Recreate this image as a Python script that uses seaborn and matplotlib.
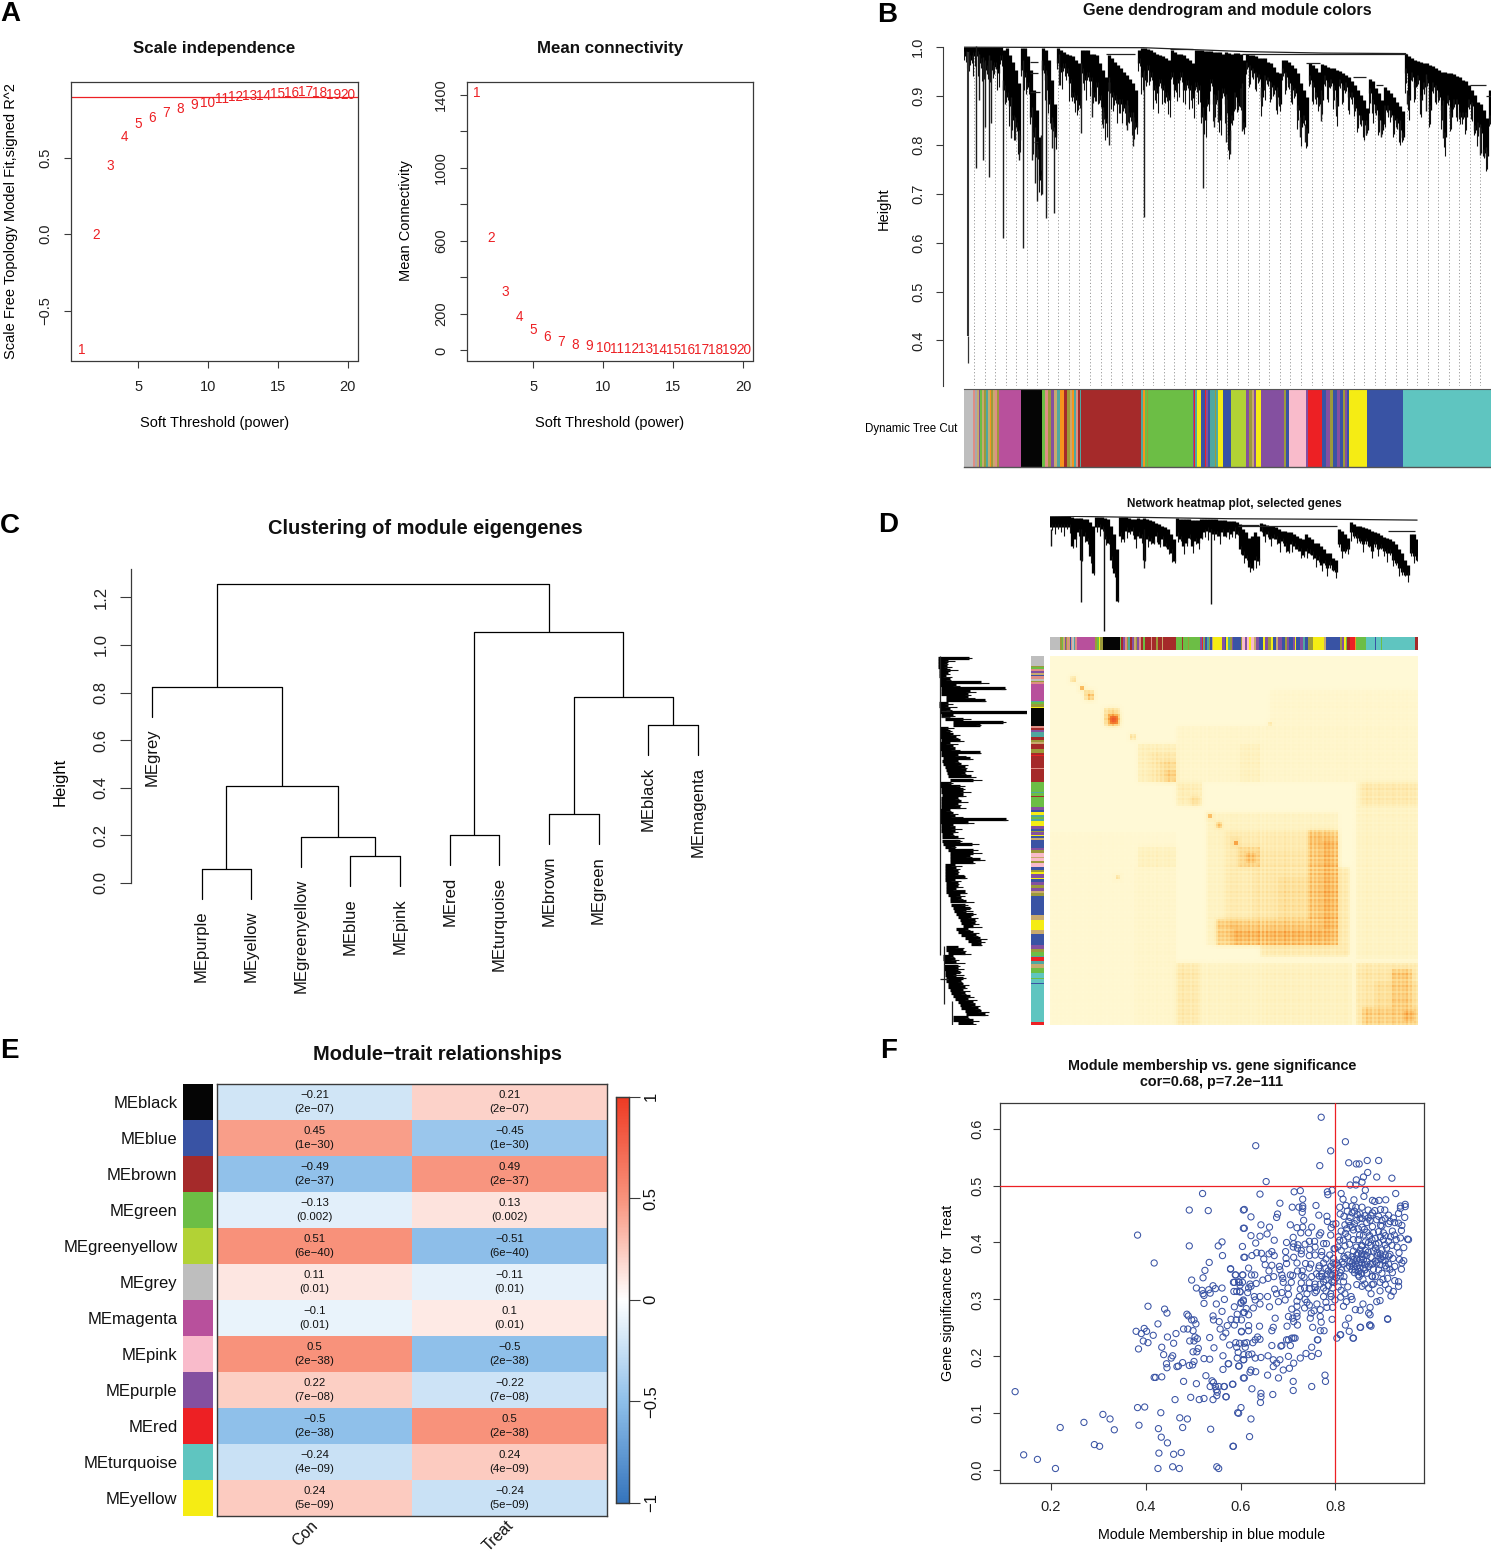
import numpy as np
import pandas as pd
import matplotlib
matplotlib.use("Agg")
import matplotlib.pyplot as plt
from matplotlib.colors import ListedColormap, LinearSegmentedColormap
import seaborn as sns

sns.set_theme(style="ticks")
plt.rcParams['font.family'] = ['Liberation Sans', 'DejaVu Sans']
plt.rcParams['axes.unicode_minus'] = True

W, H = 1491, 1555
fig = plt.figure(figsize=(W / 100, H / 100), dpi=100)
INK = "#3A3A3A"
RED = "#ED2024"

# ---------- DATA ----------
powers = list(range(1, 21))
sft_fit = [-0.758, -0.002, 0.444, 0.636, 0.717, 0.757, 0.79, 0.819, 0.842, 0.855,
           0.882, 0.895, 0.9, 0.904, 0.915, 0.924, 0.925, 0.92, 0.908, 0.91]
mean_conn = [1411, 616, 318, 183, 113, 73, 49, 32, 22, 15, 10, 8, 6, 5, 4, 3, 2.5, 2, 1.5, 1]
sft_cut = 0.895

palette = dict(grey="#BEBEBE", magenta="#B8509C", black="#050505", brown="#A52A2A",
               green="#6CBE45", blue="#3953A4", turquoise="#5FC5C0", yellow="#F5EC14",
               pink="#F9BBCB", red="#ED2024", greenyellow="#B2D235", purple="#8450A0",
               salmon="#DE8E85", tan="#C8A96E", olive="#9C9A3A", teal="#4FA7A0",
               orange="#F7941D", ltgrey="#A9A9A9")

tree_b1 = [(1.0,.981),(1.0,.981),(1.0,.973),(1.0,.98),(1.0,.981),(1.0,.966),(1.0,.959),(1.0,.952),(1.0,.963),(1.0,.952),
 (1.0,.959),(1.0,.946),(1.0,.973),(.993,.912),(.997,.898),(.983,.878),(.969,.85),(.952,.837),(.925,.81),(.997,.952),
 (.997,.939),(.98,.918),(.952,.857),(.912,.816),(.871,.782),(.816,.728),(.997,.952),(.993,.932),(.973,.884),(.932,.837),
 (.884,.816),(.997,.966),(.993,.949),(.99,.956),(.986,.946),(.983,.925),(.98,.898),(.973,.891),(.966,.881),(.993,.946),
 (.993,.932),(.993,.939),(.986,.929),(.986,.898),(.983,.918),(.966,.891),(.952,.857),(.939,.844),(.983,.918),(.976,.898),
 (.969,.891),(.963,.884),(.956,.884),(.949,.874),(.942,.871),(.935,.857),(.925,.847),(.912,.837),(.993,.966)]
tree_b2 = [(.997,.939),(.997,.932),(.995,.952),(.993,.939),(.99,.912),(.986,.905),(.983,.925),(.98,.912),(.976,.898),(.973,.891),
 (.993,.939),(.99,.912),(.986,.925),(.985,.939),(.983,.912),(.976,.922),(.973,.912),(.966,.895),(.993,.918),(.993,.912),
 (.993,.857),(.992,.85),(.991,.884),(.991,.925),(.99,.884),(.989,.891),(.989,.85),(.986,.905),(.989,.884),(.988,.81),
 (.986,.85),(.988,.898),(.988,.878),(.986,.905),(.973,.837),(.986,.959),(.983,.952),(.983,.946),(.98,.939),(.976,.935),
 (.976,.898),(.976,.932),(.969,.929),(.966,.918),(.959,.912),(.949,.898),(.946,.884),(.973,.946),(.973,.939),(.969,.925),
 (.963,.912),(.956,.905),(.946,.871),(.925,.837),(.912,.85),(.898,.823),(.966,.932),(.963,.918),(.956,.898),(.949,.884)]
tree_b3 = [(.965,.891),(.963,.932),(.959,.918),(.957,.925),(.956,.912),(.952,.878),(.951,.925),(.946,.912),(.942,.918),(.938,.898),
 (.929,.898),(.922,.874),(.912,.861),(.901,.85),(.891,.84),(.874,.83),(.935,.905),(.929,.884),(.915,.871),(.905,.85),
 (.891,.83),(.918,.871),(.912,.871),(.905,.861),(.898,.85),(.888,.844),(.878,.83),(.868,.816),(.985,.946),(.98,.891),
 (.976,.939),(.973,.918),(.971,.932),(.969,.891),(.967,.918),(.966,.925),(.963,.871),(.961,.918),(.956,.912),(.952,.898),
 (.949,.871),(.949,.816),(.947,.891),(.946,.857),(.944,.884),(.94,.884),(.938,.857),(.933,.857),(.929,.857),(.922,.884),
 (.912,.878),(.901,.83),(.888,.837),(.884,.823),(.871,.782),(.854,.776),(.912,.85)]
b_spike_pos = [4.05,5.3,6.5,7.3,8.5,9.2,13.05,15.9,17.2,18.6,19.9,22.7,23.8,24.5,26.05,25.7,27.4,29.4,30.2,31.8,39.05,43,46.6,48.7,54.6,56.7,
               60.3,79.8,87.5,88.9,83.5,84.9,92.8,99.2,104.6,112.2,114.1,119.4,124.4,134.4,139.4,145.8,148.1,154.4,159.9,162.2,172.2,174.4]
b_spike_low = [.752,.891,.768,.836,.733,.844,.609,.813,.81,.768,.589,.769,.721,.685,.70,.82,.651,.793,.66,.922,.823,.857,.834,.80,.83,.798,
               .652,.711,.806,.781,.836,.847,.827,.889,.883,.816,.806,.849,.872,.819,.815,.813,.884,.868,.813,.854,.779,.774]
b_long_pos = 1.6
b_long_low = [.409, .354]
b_main_pos = [0, 60, 94, 120, 147.5]
b_main_h = [.999, .998, .99, .987, .986]
b_merge_start = [47.7, 92.8, 68.8, 114.4, 130, 137.7, 168.9, 174.4, 22.2, 22.2, 22.2, 23.5]
b_merge_end = [57.2, 147.9, 76.6, 118.8, 134.4, 139.9, 174.4, 176, 24.9, 24.9, 25.4, 25]
b_merge_h = [.986, .986, .995, .966, .938, .922, .922, .90, .969, .946, .908, .806]
b_fringe = [.012,.03,.006,.02,.04,.01,.025,.008,.035,.015,.005,.028]
d_fringe = [8,20,4,14,26,6,17,5,23,10,3,19]

cut_segments = [('grey',9.5),('salmon',1.5),('ltgrey',2),('tan',2),('purple',1),('green',2),('tan',2),('olive',2),('teal',2),('tan',2),('orange',1.5),('olive',2),('tan',2),('salmon',2),('olive',2),
 ('magenta',21.5),('black',21.5),
 ('green',3),('salmon',3),('olive',3),('purple',3),('tan',3),('teal',3),('orange',4),('brown',3),('olive',3),('tan',2),('orange',2),('teal',2),('salmon',2),('brown',1.5),('teal',1.5),
 ('brown',59.5),('teal',2),('orange',2),('green',2),('olive',1.5),('green',45),
 ('purple',1),('red',1),('teal',2),('yellow',4),('blue',4),('red',1),('purple',2),('blue',1.5),('teal',5),('olive',1),('teal',2),('yellow',5.5),('blue',8),
 ('greenyellow',14.5),('purple',3.5),('olive',3),('tan',2),('purple',2.3),('yellow',5),('purple',22.5),('olive',2),('blue',2.8),('pink',17.8),('purple',2),('red',13.9),
 ('blue',4),('purple',4),('olive',3),('blue',4),('purple',3),('blue',3),('olive',2),('purple',2),('blue',2),('yellow',17.8),('blue',35.6),('turquoise',88.3)]
cut_colors = [c for c, _ in cut_segments]
cut_widths = [w for _, w in cut_segments]

cor_con = [-0.21, 0.45, -0.49, -0.13, 0.51, 0.11, -0.1, 0.5, 0.22, -0.5, -0.24, 0.24]
pvals = ['2e−07','1e−30','2e−37','0.002','6e−40','0.01','0.01','2e−38','7e−08','2e−38','4e−09','5e−09']
modules = ['MEblack','MEblue','MEbrown','MEgreen','MEgreenyellow','MEgrey','MEmagenta','MEpink','MEpurple','MEred','MEturquoise','MEyellow']
module_hues = ['black','blue','brown','green','greenyellow','grey','magenta','pink','purple','red','turquoise','yellow']
traits = ['Con', 'Treat']

leaf_names = ['MEgrey','MEpurple','MEyellow','MEgreenyellow','MEblue','MEpink','MEred','MEturquoise','MEbrown','MEgreen','MEblack','MEmagenta']
eigen_merges = [(2,3,.059),(5,6,.113),(4,5.5,.193),(2.5,4.75,.408),(1,3.625,.824),(7,8,.202),(9,10,.29),(11,12,.664),(9.5,11.5,.782),(7.5,10.5,1.055),(2.3125,9,1.256)]
eigen_leaf_h = [.824,.059,.059,.193,.113,.113,.202,.202,.29,.29,.664,.664]
LEAF_HANG = 0.126

# D: top tree, depths read in the tree's own unit (no axis is shown)
d_top_start = [62]*7 + [65,68,68,68,70,72,80,90,65,65,65,68,70,90,115,160,65,65,65,68,70,70,68,70,68,72,75,78,82,85,90,95,100,115,130,
 68,70,70,72,72,73,75,75,72,70,70,72,72,72,73,75,75,78,78,78,80,85,100,110,125,120,110,120,82,85,88,90,92,95,100,105,105,110,110,115,120,125,128,
 115,122,130,140,140,150,160,170,170,185,190,100,105,115,125,80,85,90,92,95,98,100,105,108,112,118,122,125,130,135,145,160,170,190,205,115,115,130]
d_top_end = [95]*7 + [150,130,110,190,120,135,180,230,95,95,100,130,140,190,230,310,120,130,105,110,105,130,120,125,190,130,135,140,120,145,130,150,160,170,195,
 120,130,150,140,125,150,135,140,125,110,105,110,115,115,120,110,120,110,115,105,115,160,175,185,210,215,190,195,105,120,115,130,125,130,140,135,150,165,145,150,160,165,175,
 165,170,175,185,190,205,200,215,205,220,225,145,165,165,160,110,120,125,135,145,135,150,165,145,160,155,165,170,170,190,200,215,225,235,235,170,180,190]
d_top_spike_pos = [18.0, 10.3, 53.9, 0.5, 31.5]
d_top_spike_end = [400, 315, 320, 150, 215]
d_left_start = [25,25,25,25,27,27,27,30,30,30,35,35,35,50,50,28,28,30,30,35,45,70,70,30,30,30,30,35,30,30,32,35,35,40,38,40,45,50,52,55,60,32,32,35,35,38,35,35,35,35,30,30,30,30,32,35,35,35,38,38,38,40,45,55,60,60,60,60,45,45,45,47,47,47,48,50,50,50,55,60,62,65,70,72,80,85,90,95,100,80,85,95,105,115,125,50,50,55,40,40,42,42,42,45,45,48,50,55,55,60,65,70,75,85,90,95,105,110,70,70,85]
d_left_end = [118,55,52,52,60,55,50,60,155,80,225,120,115,115,165,55,55,60,292,70,100,220,150,55,60,70,80,90,60,70,75,150,85,120,85,95,105,110,105,125,130,65,90,100,100,100,85,95,85,90,60,70,75,230,115,70,75,75,70,85,90,128,75,130,130,120,150,130,75,80,85,85,105,75,85,85,80,105,90,95,110,105,120,110,130,125,135,135,130,115,130,140,150,155,155,85,100,105,70,75,80,85,85,90,80,100,95,100,105,100,105,120,115,130,135,145,155,165,115,130,130]
d_top_main_x = [0, 60, 100, 122.7]
d_top_main_h = [62, 70, 72, 74]

d_top_colors = ['grey','olive','green','tan','purple','olive','salmon','tan','blue','salmon','grey','teal','salmon','magenta','olive','green','yellow','olive','black',
 'green','brown','purple','salmon','olive','teal','brown','purple','tan','olive','purple','salmon','brown','green',
 'brown','salmon','brown','olive','brown','tan','brown','green','brown','green','olive','green','brown','green',
 'purple','red','teal','olive','blue','teal','olive','blue','tan','yellow','purple','blue','yellow','teal','olive','purple','blue',
 'olive','pink','purple','pink','yellow','pink','tan','purple',
 'blue','yellow','purple','olive','yellow','blue','tan','purple','blue','olive','purple','blue','purple','yellow','blue','purple','teal','blue',
 'olive','yellow','tan','blue','olive','purple','yellow','green','brown','red','orange','green','turquoise','blue','turquoise','green','turquoise','brown']
d_top_widths = [30,6,3,5,4,3,5,3,3,5,4,4,7,53,6,5,5,7,52,
 4,5,5,6,5,5,6,5,6,5,6,6,6,6,
 18,3,12,4,14,3,37,20,2,14,3,12,2,20,
 5,3,4,4,4,7,3,5,5,26,8,4,6,5,6,5,23,
 5,8,5,7,5,10,5,10,
 12,6,10,8,5,9,7,12,8,6,8,10,7,3,12,9,6,9,
 15,32,8,40,7,5,6,5,7,15,5,30,25,3,15,3,99,10]
d_left_colors = ['grey','olive','green','salmon','purple','tan','blue','salmon','grey','olive','salmon','magenta','teal','green','olive','yellow','black',
 'salmon','brown','purple','teal','brown','olive','tan','brown','olive','brown','red','brown','salmon','brown','green','teal','green','brown','green',
 'purple','blue','yellow','teal','green','teal','yellow','purple','blue','olive','purple','yellow','blue','tan','blue','purple','olive',
 'pink','tan','pink','olive','pink','blue','olive','yellow','purple','yellow','blue','purple','olive','purple','tan','olive','blue','tan','yellow','tan','blue',
 'purple','olive','green','teal','red','teal','tan','green','turquoise','green','turquoise','blue','turquoise','red']
d_left_widths = [28,5,4,7,6,5,4,8,5,5,6,48,5,5,7,5,53,
 5,6,5,14,10,6,6,14,12,6,3,35,2,38,30,3,10,2,30,
 8,7,7,8,5,5,15,8,6,5,6,4,6,5,25,5,10,
 10,5,8,4,13,10,6,5,10,5,8,10,9,8,6,8,55,15,30,12,33,
 10,8,12,5,10,10,10,15,15,3,12,3,112,8]

# adjacency blocks: rank x0, x1, y0, y1 (percent), level
tom_blocks = [(5.6,7.2,5.6,7,.3),(8,9,8,9,.75),(9,12,9,12,.3),(10.5,12,10.5,12,.5),(14.5,19,14,19,.35),(15.5,18.8,15.5,18.8,.55),(16.5,18.5,16.5,18.5,.95),(21.5,23.5,21,23,.3),
 (0,34,48,100,.03),(34,100,19,34,.06),(60,100,9,19,.05),(23,34,57,100,.06),
 (23.7,34,24,34,.14),(27,34,26,34,.2),(30,34,28,34,.3),(31.5,34,31,34,.38),(34.4,41.2,34.5,41,.15),(38,41,38,41,.28),
 (51.8,57,24,34,.12),(23.7,34,51.6,57,.12),
 (34.4,82,83,100,.1),(83,100,34.4,82,.1),(84,100,34.5,41,.2),(34.4,41,83,100,.2),(57,82,83,100,.12),
 (42.5,78.3,42.4,78.5,.1),(78.3,81.5,57,81,.18),(57,81,78.5,81.5,.18),
 (47.5,78.3,47.5,78.5,.17),(55,78.3,52,78.5,.22),(62,78.3,60,78.5,.27),(70,78.3,47.5,78.5,.42),(45,78.3,71,78.5,.4),(50,78.3,74,78.5,.52),(74,78.3,50,78.5,.52),
 (51,57,51.6,57,.34),(53,56,53,56,.5),
 (83,100,83,100,.22),(88,100,88,100,.3),(85,100,95,100,.4),(93,98.5,85,100,.42),(96,99,96,99,.58),
 (43,44,43,44,.7),(45,46.5,45,46.5,.5),(50,51,50,51,.85),(18,19,59.5,60.5,.4),(59.5,60.5,18,19,.3)]
tom_streaks = [.9,1.1,.8,1.0,.7,1.2,.9,1.0,.8,1.1,.7,1.0,1.2,.8,.9,1.1,.7,1.0,.9,1.2,.8,1.0,.7,1.1,.9,1.3,.8,1.0,.7,1.1,
 .9,1.2,.8,1.0,.7,1.1,1.2,.8,1.0,.9,1.2,.7,1.0,.8,1.1,.9,1.2,.7,1.0,1.2,.8,1.1,.7,1.3,.9,1.0,.7,1.1,.9,1.2,
 .8,1.0,1.2,.7,1.1,.9,1.3,.8,1.0,1.1,.7,1.2,.9,1.0,.8,1.2,.7,1.1,.6,1.3,1.0,.8,1.1,.7,1.2,.9,1.0,.8,1.1,.9,1.2,1.0]

# F: module membership / gene significance
mm_gs_low = [(.125,.138),(.143,.027),(.172,.019),(.210,.003),(.220,.075),(.270,.084),(.292,.045),(.303,.042),(.310,.098),(.325,.090),(.334,.071),
 (.383,.110),(.398,.111),(.386,.079),(.432,.101),(.427,.073),(.433,.058),(.446,.048),(.428,.030),(.459,.028),(.475,.031),(.426,.003),(.457,.006),(.471,.003),
 (.472,.092),(.488,.090),(.478,.075),(.537,.072),(.550,.006),(.554,.003),(.585,.042),(.584,.042),(.601,.110),(.594,.101),(.596,.100),(.622,.090),(.619,.059),
 (.462,.124),(.495,.128),(.513,.124),(.523,.126),(.542,.124),(.569,.129),(.550,.131),(.551,.137),(.549,.141),(.536,.147),(.547,.147),(.554,.147),(.566,.147),(.583,.151),
 (.480,.156),(.507,.152),(.540,.157),(.543,.154),(.527,.166),(.606,.162),(.418,.163),(.421,.163),(.434,.164),(.565,.147),(.570,.129),(.584,.151),(.624,.143),
 (.643,.135),(.643,.129),(.642,.119),(.668,.133),(.711,.156),(.711,.140),(.750,.147),(.778,.167),(.779,.156),(.657,.167),(.680,.162),(.608,.162),(.622,.176),(.632,.173),(.620,.172),
 (.563,.177),(.575,.187),(.596,.183),(.597,.183),(.574,.187),(.444,.187),(.445,.180),(.466,.182),(.469,.183),(.478,.189),(.502,.191),(.492,.184),(.499,.185),(.523,.196),(.535,.195),
 (.457,.201),(.454,.197),(.563,.201),(.607,.203),(.593,.197),(.607,.194),(.438,.203),(.500,.208),(.508,.208),(.595,.207),(.434,.216),(.385,.213),(.544,.215),(.592,.216),(.511,.214),
 (.669,.182),(.676,.188),(.683,.194),(.669,.194),(.658,.201),(.643,.198),(.631,.197),(.606,.194),(.617,.203),(.624,.204),(.690,.176),(.703,.179),(.712,.188),(.701,.200),(.726,.197),(.738,.205),(.750,.200),(.764,.205)]
mm_gs_mid = [(.520,.486),(.492,.457),(.532,.456),(.606,.457),(.606,.425),(.383,.413),(.492,.394),(.553,.394),(.561,.401),(.604,.393),(.562,.377),(.607,.374),(.418,.364),(.534,.365),
 (.525,.351),(.579,.353),(.589,.343),(.604,.343),(.521,.338),(.497,.334),(.587,.330),(.597,.330),(.604,.330),(.599,.325),(.507,.320),(.519,.316),(.521,.310),(.523,.307),(.533,.317),(.536,.311),
 (.542,.324),(.547,.319),(.561,.320),(.586,.314),(.592,.314),(.599,.314),(.566,.300),(.523,.293),(.549,.292),(.601,.293),(.606,.297),(.587,.287),(.405,.288),(.440,.283),(.445,.276),(.561,.279),
 (.593,.274),(.608,.277),(.487,.274),(.490,.271),(.497,.264),(.502,.264),(.506,.257),(.542,.271),(.543,.264),(.580,.265),(.591,.264),(.602,.264),(.555,.261),(.587,.255),(.426,.257),(.572,.254),
 (.557,.248),(.480,.248),(.489,.248),(.500,.245),(.380,.244),(.397,.249),(.402,.244),(.391,.240),(.416,.237),(.464,.240),(.446,.234),(.569,.241),(.602,.243),(.535,.233),(.563,.234),(.509,.231),
 (.504,.234),(.493,.227),(.502,.227),(.395,.227),(.405,.224),(.459,.223),(.590,.224),(.577,.220),(.608,.223),
 (.641,.411),(.656,.415),(.711,.409),(.671,.404),(.632,.399),(.697,.400),(.712,.398),(.721,.396),(.736,.397),(.756,.402),(.745,.402),(.775,.398),(.781,.398),(.711,.392),(.720,.390),(.728,.386),(.746,.388),(.757,.392),(.771,.384),(.797,.389),
 (.609,.374),(.624,.377),(.634,.382),(.644,.381),(.649,.371),(.660,.380),(.666,.384),(.671,.377),(.695,.384),(.696,.372),(.728,.380),(.712,.374),(.745,.377),(.757,.378),(.771,.377),(.780,.371),(.788,.378),(.796,.372),
 (.652,.361),(.666,.360),(.697,.363),(.719,.364),(.737,.363),(.748,.362),(.766,.359),(.775,.364),(.790,.358),(.795,.364),(.799,.362),(.617,.355),(.579,.354),(.683,.352),(.682,.358),
 (.605,.343),(.590,.343),(.623,.343),(.630,.343),(.687,.343),(.705,.343),(.710,.342),(.729,.342),(.734,.339),(.766,.341),(.771,.345),(.782,.343),(.793,.343),(.799,.346),
 (.596,.331),(.585,.330),(.620,.327),(.633,.328),(.647,.334),(.658,.337),(.689,.337),(.690,.330),(.707,.330),(.728,.329),(.745,.329),(.757,.327),(.768,.327),(.775,.331),(.793,.331),(.797,.334),
 (.617,.320),(.622,.323),(.672,.318),(.687,.312),(.726,.318),(.745,.319),(.757,.321),(.785,.324),(.794,.320),(.599,.313),(.615,.312),(.629,.305),(.641,.305),(.657,.305),(.676,.310),(.701,.309),(.757,.312),(.740,.310),(.724,.305),(.775,.305),(.791,.305),
 (.606,.299),(.601,.295),(.631,.299),(.641,.292),(.680,.296),(.694,.299),(.719,.297),(.736,.300),(.780,.295),(.799,.299),(.612,.284),(.627,.285),(.661,.287),(.708,.283),(.719,.288),(.745,.290),(.761,.292),(.768,.282),(.782,.286),(.794,.286),
 (.606,.277),(.617,.273),(.719,.276),(.749,.276),(.768,.270),(.673,.267),(.701,.270),(.710,.267),(.719,.270),(.747,.267),(.793,.265),(.712,.261),(.770,.260),(.617,.254),(.640,.253),(.669,.251),(.698,.253),(.720,.255),(.752,.251),(.768,.245),(.776,.245),
 (.602,.244),(.617,.245),(.666,.245),(.636,.234),(.641,.230),(.631,.229),(.708,.232),(.715,.232),(.697,.229),(.763,.229),(.598,.223),(.613,.224),(.626,.224),(.666,.219),(.687,.219),(.705,.219),(.750,.216),(.610,.216),(.685,.218),(.701,.229),(.712,.232),(.762,.229),
 (.78,.355),(.785,.35),(.79,.345),(.795,.352),(.797,.33),(.78,.335),(.772,.34),(.765,.355),(.76,.345),(.775,.32),(.78,.315),(.79,.31),(.76,.315),(.745,.355),(.75,.34),(.73,.35),(.72,.35),(.735,.32),(.74,.295),(.755,.28),(.735,.285),(.7,.32),(.67,.34),(.66,.35)]
mm_gs_high = [(.770,.620),(.632,.570),(.821,.577),(.790,.561),(.767,.535),(.828,.540),(.844,.538),(.850,.538),(.867,.544),(.891,.544),(.868,.523),(.859,.515),(.887,.515),(.919,.513),(.654,.507),
 (.844,.510),(.843,.501),(.831,.501),(.856,.506),(.641,.485),(.713,.489),(.726,.491),(.783,.489),(.784,.484),(.793,.492),(.812,.486),(.863,.492),(.860,.481),(.927,.486),(.816,.476),(.878,.474),(.883,.472),
 (.892,.474),(.906,.475),(.731,.476),(.683,.469),(.839,.475),(.809,.462),(.822,.465),(.835,.464),(.843,.462),(.856,.462),(.709,.462),(.723,.462),(.731,.464),(.731,.460),(.759,.465),(.608,.458),(.869,.457),(.883,.456),
 (.895,.458),(.904,.457),(.937,.464),(.947,.467),(.937,.460),(.947,.463),(.730,.453),(.678,.450),(.622,.445),(.676,.444),(.733,.439),(.765,.448),(.782,.446),(.783,.437),(.810,.450),(.818,.446),(.831,.444),(.845,.439),
 (.856,.442),(.875,.447),(.873,.439),(.891,.446),(.898,.439),(.912,.448),(.922,.443),(.933,.451),(.946,.444),(.705,.431),(.643,.431),(.661,.427),(.608,.425),(.719,.426),(.731,.427),(.750,.427),(.795,.432),(.801,.433),
 (.791,.426),(.820,.431),(.831,.430),(.840,.433),(.824,.424),(.838,.422),(.856,.427),(.861,.423),(.898,.429),(.912,.433),(.933,.434),(.939,.421),(.727,.417),(.743,.417),(.769,.417),(.766,.413),(.790,.413),(.821,.416),
 (.851,.413),(.859,.413),(.880,.417),(.891,.419),(.901,.417),(.924,.413),(.622,.412),(.809,.404),(.817,.404),(.863,.401),(.891,.399),(.901,.405),(.912,.402),(.937,.408),(.952,.406),(.954,.405),(.944,.391),(.919,.395),
 (.875,.395),(.857,.394),(.844,.392),(.812,.386),(.852,.387),(.863,.386),(.884,.390),(.898,.387),(.908,.390),(.934,.382),(.915,.379),(.799,.389),(.803,.364),(.818,.375),(.835,.375),(.845,.378),(.856,.375),(.866,.377),
 (.875,.374),(.889,.377),(.900,.375),(.900,.369),(.940,.364),(.944,.368),(.817,.362),(.831,.367),(.838,.370),(.845,.371),(.852,.370),(.859,.370),(.866,.367),(.835,.364),(.842,.364),(.849,.364),(.856,.364),(.863,.361),
 (.873,.362),(.887,.364),(.894,.361),(.905,.359),(.838,.358),(.845,.358),(.852,.355),(.859,.355),(.835,.352),(.842,.352),(.849,.349),(.824,.355),(.813,.352),(.880,.353),(.891,.352),(.908,.355),(.915,.353),(.939,.353),
 (.810,.341),(.818,.340),(.866,.346),(.877,.341),(.898,.346),(.910,.337),(.817,.331),(.880,.327),(.894,.330),(.925,.333),(.933,.331),(.845,.326),(.856,.323),(.877,.326),(.894,.315),(.933,.323),(.922,.314),(.811,.304),
 (.833,.305),(.875,.310),(.917,.306),(.823,.296),(.835,.300),(.858,.292),(.887,.296),(.894,.298),(.817,.288),(.842,.282),(.852,.281),(.873,.286),(.870,.276),(.873,.273),(.828,.267),(.910,.266),(.821,.255),(.872,.255),
 (.875,.253),(.853,.251),(.810,.238),(.829,.244),(.803,.232),(.837,.232),(.811,.238),(.838,.232),(.852,.251),(.873,.255),(.910,.265)]
mm_gs_dense = [(.825,.455),(.835,.452),(.846,.449),(.852,.443),(.862,.447),(.869,.443),(.878,.452),(.887,.44),(.905,.442),(.915,.437),(.925,.435),(.94,.43),(.828,.437),(.836,.427),(.848,.424),(.866,.418),(.872,.412),(.884,.407),(.895,.41),(.905,.412),(.916,.41),(.928,.405),
 (.82,.394),(.83,.397),(.838,.385),(.848,.381),(.855,.38),(.862,.379),(.869,.383),(.88,.385),(.888,.383),(.895,.38),(.905,.378),(.912,.376),(.921,.372),(.83,.358),(.84,.347),(.848,.343),(.855,.346),(.862,.352),(.87,.358),(.878,.362),(.884,.367),(.89,.37),(.896,.372),(.905,.368),(.912,.362),(.92,.347),
 (.82,.372),(.826,.378),(.814,.366),(.806,.36),(.81,.347),(.802,.338),(.806,.322),(.812,.316),(.82,.31),(.826,.322),(.85,.34),(.858,.335),(.862,.327),(.87,.32),(.884,.34),(.9,.335),(.905,.326),(.912,.318),(.878,.34),
 (.848,.405),(.855,.395),(.838,.405),(.826,.41),(.812,.42),(.806,.41),(.805,.392),(.87,.4),(.877,.405),(.885,.397),(.905,.396),(.878,.428),(.866,.435),(.852,.45),(.84,.455),(.895,.43),(.92,.42),(.93,.392),(.935,.37),(.925,.358)]


# ---------- HELPERS ----------
def px_axes(l, t, r, b):
    return fig.add_axes([l / W, 1 - b / H, (r - l) / W, (b - t) / H])

def place_xlabel(ax, s, x, y, size=10.5):
    ax.set_xlabel(s, fontsize=size, color="black", va="center", ha="center")
    ax.xaxis.set_label_coords(x / W, 1 - y / H, transform=fig.transFigure)

def place_ylabel(ax, s, x, y, size=10.5):
    ax.set_ylabel(s, fontsize=size, color="black", va="center", ha="center", rotation=90)
    ax.yaxis.set_label_coords(x / W, 1 - y / H, transform=fig.transFigure)

def place_title(ax, lines, x, y, size):
    fig.text(x / W, 1 - y / H, lines, fontsize=size, fontweight="bold", ha="center", va="center", color="#111111")

def frame(ax, lw=0.9):
    for s in ax.spines.values():
        s.set_visible(True)
        s.set_linewidth(lw)
        s.set_color(INK)

def y_ticks_rot(ax, ticks, labels, size=10.5, pad=8.5, length=5):
    ax.set_yticks(ticks)
    ax.set_yticklabels(labels, rotation=90, va="center", fontsize=size)
    ax.tick_params(axis="y", length=length, width=0.8, pad=pad, color=INK, labelcolor="#222222")

def x_ticks(ax, ticks, labels, size=10.5, pad=9, length=5):
    ax.set_xticks(ticks)
    ax.set_xticklabels(labels, fontsize=size)
    ax.tick_params(axis="x", length=length, width=0.8, pad=pad, color=INK, labelcolor="#222222")

def strip(ax, names, widths, vertical=False):
    widths = np.array(widths, dtype=float)
    lefts = np.concatenate([[0], np.cumsum(widths)[:-1]])
    cols = [palette[n] for n in names]
    if vertical:
        ax.barh(lefts, np.ones_like(widths), height=widths, align="edge", color=cols, linewidth=0)
        ax.set_ylim(widths.sum(), 0)
        ax.set_xlim(0, 1)
    else:
        ax.bar(lefts, np.ones_like(widths), width=widths, align="edge", color=cols, linewidth=0)
        ax.set_xlim(0, widths.sum())
        ax.set_ylim(0, 1)
    ax.set_xticks([]); ax.set_yticks([])
    for s in ax.spines.values():
        s.set_visible(False)

for lab, x, y in [("A", 0, 14), ("B", 877, 15), ("C", 0, 526), ("D", 878, 525), ("E", 0, 1051), ("F", 880, 1051)]:
    fig.text(x / W, 1 - y / H, lab, fontsize=20, fontweight="bold", ha="left", va="center", color="black")

# ---------- A ----------
ax = px_axes(71, 82, 358, 360.5)
frame(ax)
ax.set_xlim(0.2, 20.75); ax.set_ylim(-0.824, 0.993)
for p, v in zip(powers, sft_fit):
    ax.text(p, v, str(p), color=RED, fontsize=9.8, ha="center", va="center")
ax.axhline(sft_cut, color=RED, lw=0.9)
x_ticks(ax, [5, 10, 15, 20], ['5', '10', '15', '20'])
y_ticks_rot(ax, [-0.5, 0, 0.5], ['−0.5', '0.0', '0.5'])
place_xlabel(ax, "Soft Threshold (power)", 214.5, 423)
place_ylabel(ax, "Scale Free Topology Model Fit,signed R^2", 11, 221)
place_title(ax, "Scale independence", 214.5, 48, 12.2)

ax = px_axes(467, 82, 753, 360.5)
frame(ax)
ax.set_xlim(0.29, 20.68); ax.set_ylim(-55, 1470)
for p, v in zip(powers, mean_conn):
    ax.text(p, v, str(p), color=RED, fontsize=9.8, ha="center", va="center")
x_ticks(ax, [5, 10, 15, 20], ['5', '10', '15', '20'])
y_ticks_rot(ax, [0, 200, 400, 600, 800, 1000, 1200, 1400], ['0', '200', '', '600', '', '1000', '', '1400'])
place_xlabel(ax, "Soft Threshold (power)", 610, 423)
place_ylabel(ax, "Mean Connectivity", 406, 221)
place_title(ax, "Mean connectivity", 610, 48, 12.2)

# ---------- B ----------
tree_b = tree_b1 + tree_b2 + tree_b3
b_top = np.array([t for t, _ in tree_b])
b_low = np.array([l for _, l in tree_b])
pos_b = np.arange(len(tree_b)) + 0.5
ax = px_axes(963.5, 40, 1491, 386)
ax.set_xlim(0, len(tree_b)); ax.set_ylim(0.307, 1.0137)
for s in ['top', 'right', 'bottom']:
    ax.spines[s].set_visible(False)
ax.spines['left'].set_position(('outward', 14.8))
ax.spines['left'].set_bounds(0.307, 1.0)
ax.spines['left'].set_color(INK); ax.spines['left'].set_linewidth(0.8)
ax.set_xticks([])
guide_pos = np.arange(3.5, len(tree_b), 3.52)
ax.vlines(guide_pos, 0.307, b_low[guide_pos.astype(int)], color="#9A9A9A", lw=0.7, linestyle=(0, (1.2, 2.2)), zorder=1)
ax.vlines(pos_b, b_low, b_top, color="black", lw=2.35, zorder=3)
fringe = np.resize(b_fringe, len(tree_b))
ax.vlines(pos_b + 0.25, b_low - fringe, b_low + .01, color="#111111", lw=0.8, zorder=3)
ax.vlines(pos_b - 0.25, b_low - fringe[::-1], b_low + .01, color="#111111", lw=0.8, zorder=3)
spike_tops = b_low[np.array(b_spike_pos).astype(int)] + 0.02
ax.vlines(b_spike_pos, b_spike_low, spike_tops, color="#1E1E1E", lw=1.0, zorder=3)
ax.vlines(b_long_pos, b_long_low[0], 0.99, color="#333333", lw=1.5, zorder=3)
ax.vlines(b_long_pos, b_long_low[1], b_long_low[0], color="#333333", lw=0.9, zorder=3)
ax.plot(b_main_pos, b_main_h, color="#222222", lw=0.9, zorder=3)
ax.hlines(b_merge_h, b_merge_start, b_merge_end, color="#222222", lw=0.9, zorder=3)
y_ticks_rot(ax, [.4, .5, .6, .7, .8, .9, 1.0], ['0.4', '0.5', '0.6', '0.7', '0.8', '0.9', '1.0'], pad=8)
place_ylabel(ax, "Height", 884, 209)
place_title(ax, "Gene dendrogram and module colors", 1227, 10, 11.7)
ax = px_axes(963.5, 389, 1491, 467)
strip(ax, cut_colors, cut_widths)
ax.set_ylabel("Dynamic Tree Cut", fontsize=8.3, rotation=0, ha="right", va="center", color="black")
ax.yaxis.set_label_coords(957 / W, 1 - 429 / H, transform=fig.transFigure)
ax.spines['bottom'].set_visible(True); ax.spines['bottom'].set_color("#555555"); ax.spines['bottom'].set_linewidth(1)
ax.spines['top'].set_visible(True); ax.spines['top'].set_color("#555555"); ax.spines['top'].set_linewidth(0.8)

# ---------- C ----------
ax = px_axes(131, 569, 730, 883)
ax.set_xlim(0.577, 12.65); ax.set_ylim(0, 1.319)
for s in ['top', 'right', 'bottom']:
    ax.spines[s].set_visible(False)
ax.spines['left'].set_color(INK); ax.spines['left'].set_linewidth(0.9)
ax.set_xticks([])
for xl, xr, h in eigen_merges:
    ax.plot([xl, xr], [h, h], color="black", lw=0.9, clip_on=False)
links = [((2.5, .408), .059), ((4.75, .408), .193), ((5.5, .193), .113), ((3.625, .824), .408),
         ((2.3125, 1.256), .824), ((9, 1.256), 1.055), ((7.5, 1.055), .202), ((10.5, 1.055), .782),
         ((9.5, .782), .29), ((11.5, .782), .664)]
ax.vlines([l[0][0] for l in links], [l[1] for l in links], [l[0][1] for l in links], color="black", lw=0.9)
for i, (name, h) in enumerate(zip(leaf_names, eigen_leaf_h)):
    xp = i + 1
    ax.plot([xp, xp], [h, h - LEAF_HANG], color="black", lw=0.9, clip_on=False)
    ax.text(xp, h - LEAF_HANG - 0.05, name, rotation=90, ha="center", va="top", fontsize=12, color="#111111", clip_on=False)
y_ticks_rot(ax, [0, .2, .4, .6, .8, 1.0, 1.2], ['0.0', '0.2', '0.4', '0.6', '0.8', '1.0', '1.2'], size=12, pad=8, length=8)
place_ylabel(ax, "Height", 60, 782, size=12)
place_title(ax, "Clustering of module eigengenes", 425, 528, 14.4)

# ---------- D ----------
ax = px_axes(1050, 516, 1418, 631.5)
n_top = len(d_top_start)
ax.set_xlim(0, n_top); ax.set_ylim(400, 62)
ax.axis("off")
pos_t = np.arange(n_top) + 0.5
low_t = np.array(d_top_end)
ax.vlines(pos_t, d_top_start, d_top_end, color="black", lw=2.35)
fr_t = np.resize(d_fringe, n_top)
ax.vlines(pos_t + .25, low_t - 10, low_t + fr_t, color="#111111", lw=0.8)
ax.vlines(d_top_spike_pos, [100] * len(d_top_spike_pos), d_top_spike_end, color="#111111", lw=1.0)
ax.plot(d_top_main_x, d_top_main_h, color="#222222", lw=0.9)
ax.hlines([92, 105, 88], [63, 113, 64], [96, 122, 70], color="#222222", lw=0.9)
ax = px_axes(1050, 637, 1418, 650)
strip(ax, d_top_colors, d_top_widths)

ax = px_axes(1031, 656, 1044, 1025)
strip(ax, d_left_colors, d_left_widths, vertical=True)

ax = px_axes(938, 656, 1027, 1025)
n_left = len(d_left_start)
ax.set_xlim(25, 292); ax.set_ylim(n_left, 0)
ax.axis("off")
pos_l = np.arange(n_left) + 0.5
low_l = np.array(d_left_end)
ax.hlines(pos_l, d_left_start, d_left_end, color="black", lw=2.35)
fr_l = np.resize(d_fringe, n_left)
ax.hlines(pos_l + .25, low_l - 10, low_l + fr_l, color="#111111", lw=0.8)
ax.vlines([30, 42, 66], [0, 95, 113], [98, 114, 121], color="#222222", lw=0.9)
ax.hlines([18, 20, 106], [35, 35, 30], [60, 60, 55], color="#222222", lw=0.9)

tom_n = 184
tom = np.zeros((tom_n, tom_n))
st = np.array(tom_streaks + tom_streaks[::-1])
for x0, x1, y0, y1, lev in tom_blocks:
    i0 = int(round(y0 / 100 * tom_n)); i1 = max(int(round(y1 / 100 * tom_n)), i0 + 1)
    j0 = int(round(x0 / 100 * tom_n)); j1 = max(int(round(x1 / 100 * tom_n)), j0 + 1)
    patch = lev * np.outer(st[i0:i1], st[j0:j1]) if lev < 0.6 else np.full((i1 - i0, j1 - j0), lev)
    tom[i0:i1, j0:j1] = np.maximum(tom[i0:i1, j0:j1], patch)
# soften the block edges, as the reference's gradual fade between modules
kernel = np.ones(5) / 5
soft = np.apply_along_axis(lambda r: np.convolve(r, kernel, mode="same"), 0, tom)
soft = np.apply_along_axis(lambda r: np.convolve(r, kernel, mode="same"), 1, soft)
tom = 0.55 * tom + 0.45 * soft
tom_cmap = LinearSegmentedColormap.from_list("tom", [(0, "#FFF9D6"), (.12, "#FEF1BE"), (.3, "#FDDD94"), (.5, "#FAB75A"),
                                                     (.7, "#F59231"), (.85, "#F0652A"), (1, "#E63A2B")])
ax = px_axes(1050, 656, 1418, 1025)
sns.heatmap(tom, cmap=tom_cmap, vmin=0, vmax=1, cbar=False, xticklabels=False, yticklabels=False, ax=ax)
place_title(ax, "Network heatmap plot, selected genes", 1234, 504, 8.5)

# ---------- E ----------
cor = np.array([cor_con, [-v for v in cor_con]]).T
def fmt_cor(v):
    s = f"{abs(v):g}"
    return ("−" if v < 0 else "") + s
annot = np.array([[f"{fmt_cor(v)}\n({p})" for v in row] for row, p in zip(cor, pvals)])
bwr = LinearSegmentedColormap.from_list("bwr_r", [(0, "#3574BC"), (.25, "#8FC0EA"), (.5, "#FFFFFF"), (.75, "#F8937C"), (1, "#EE3A23")])
ax = px_axes(217, 1084, 607, 1516)
cax = px_axes(615.8, 1096.7, 628.8, 1502.7)
sns.heatmap(pd.DataFrame(cor, index=modules, columns=traits), cmap=bwr, vmin=-1, vmax=1, annot=annot, fmt="",
            annot_kws=dict(fontsize=8.2, color="#111111", linespacing=1.45), yticklabels=False, ax=ax, cbar_ax=cax)
frame(ax, 1.0)
ax.set_xticks([0.48, 1.48])
ax.set_xticklabels(traits, rotation=45, ha="right", va="top", rotation_mode="anchor", fontsize=11.4, color="#111111")
ax.tick_params(axis="x", length=0, pad=1.5)
cax.set_yticks([-1, -.5, 0, .5, 1])
cax.set_yticklabels(['−1', '−0.5', '0', '0.5', '1'], rotation=90, va="center", fontsize=12, color="#111111")
cax.tick_params(axis="y", length=7.8, width=0.8, pad=3, color=INK, right=True, left=False)
cax.yaxis.set_ticks_position("right")
for s in cax.spines.values():
    s.set_visible(True); s.set_color(INK); s.set_linewidth(0.9)
place_title(ax, "Module−trait relationships", 437.5, 1054, 14.4)

ax = px_axes(183, 1084, 212.5, 1516)
hue_cmap = ListedColormap([palette[h] for h in module_hues])
sns.heatmap(np.arange(12).reshape(-1, 1), cmap=hue_cmap, cbar=False, xticklabels=False, yticklabels=modules, ax=ax)
ax.set_yticklabels(modules, rotation=0, fontsize=12, color="#111111", va="center_baseline")
ax.tick_params(axis="y", length=0, pad=4)

# ---------- F ----------
pts = mm_gs_low + mm_gs_mid + mm_gs_high + mm_gs_dense
df = pd.DataFrame(pts, columns=["mm", "gs"])
ax = px_axes(999.7, 1103.3, 1423.7, 1483.3)
sns.scatterplot(data=df, x="mm", y="gs", s=20, facecolor="none", edgecolor="#3953A4", linewidth=0.75, ax=ax, zorder=2)
ax.set_xlim(0.0925, 0.986); ax.set_ylim(-0.023, 0.6445)
frame(ax)
ax.axvline(0.8, color=RED, lw=0.9, zorder=3); ax.axhline(0.5, color=RED, lw=0.9, zorder=3)
x_ticks(ax, [.2, .4, .6, .8], ['0.2', '0.4', '0.6', '0.8'], pad=7)
y_ticks_rot(ax, [0, .1, .2, .3, .4, .5, .6], ['0.0', '0.1', '0.2', '0.3', '0.4', '0.5', '0.6'], pad=6)
place_xlabel(ax, "Module Membership in blue module", 1212, 1535, size=10.3)
place_ylabel(ax, "Gene significance for  Treat", 948, 1293, size=10.3)
place_title(ax, "Module membership vs. gene significance\ncor=0.68, p=7.2e−111", 1212, 1074, 10.4)

fig.savefig("out.png", dpi=100, facecolor="white")
